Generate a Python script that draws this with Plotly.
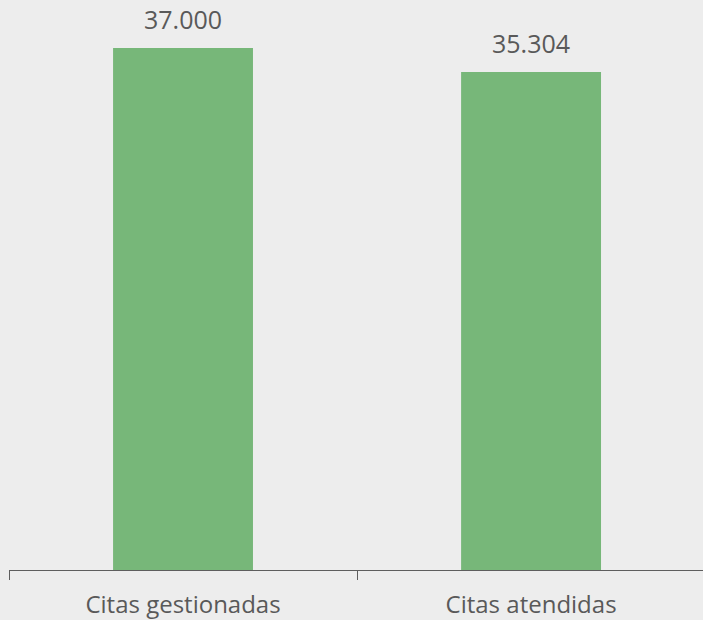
import plotly.graph_objects as go

categories = ["Citas gestionadas", "Citas atendidas"]
values = [37000, 35304]
value_labels = ["37.000", "35.304"]

BG = "#EDEDED"
BAR = "#77B779"
TXT = "#595959"

fig = go.Figure(go.Bar(
    x=categories, y=values,
    marker=dict(color=BAR, line=dict(width=0)),
    width=0.402,
    hoverinfo="skip",
))

for c, v, t in zip(categories, values, value_labels):
    fig.add_annotation(x=c, y=v, text=t, showarrow=False, yanchor="bottom",
                       yshift=10, font=dict(family="Open Sans", size=25, color=TXT))

fig.update_layout(
    width=703, height=620,
    margin=dict(l=9, r=0, t=0, b=50),
    paper_bgcolor=BG, plot_bgcolor=BG,
    showlegend=False,
    font=dict(family="Open Sans", color=TXT),
)
fig.update_xaxes(
    type="category", range=[-0.5, 1.494],
    showgrid=False, zeroline=False,
    showline=True, linecolor="#5E5E5E", linewidth=1.3,
    ticks="outside", tickson="boundaries", ticklen=9, tickcolor="#5E5E5E", tickwidth=1.3,
    tickfont=dict(family="Open Sans", size=24, color=TXT),
    ticklabelstandoff=13,
)
fig.update_yaxes(range=[0, 40402], visible=False, showgrid=False, zeroline=False)

fig.write_html(
    "out.html",
    config={"displayModeBar": False},
    post_script="document.body.style.margin='0';document.body.style.overflow='hidden';document.body.style.background='#EDEDED';",
)
